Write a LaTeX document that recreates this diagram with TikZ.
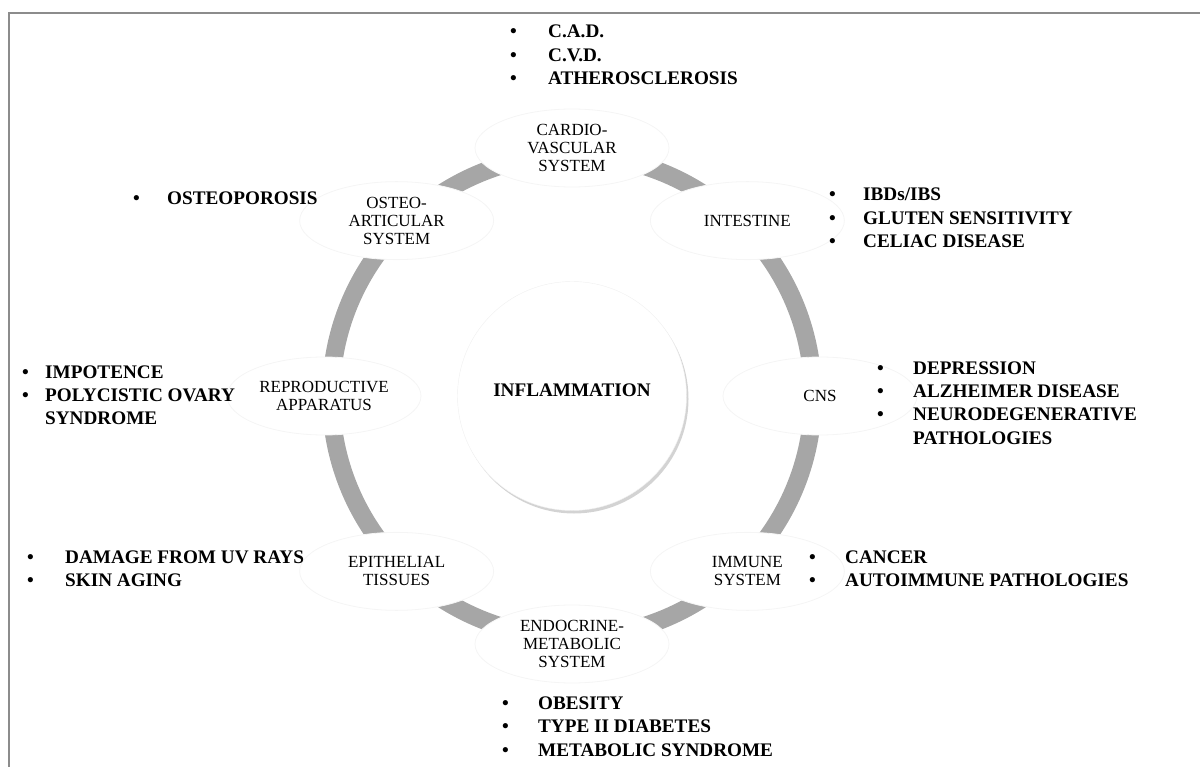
\documentclass[tikz,border=0pt]{standalone}
\usepackage{fontspec}
\setmainfont{Liberation Serif}
\usetikzlibrary{calc,shapes.geometric,shadows}

\newcommand\bulletlist[2]{%
  \begin{tabular}[t]{@{}p{#1}@{}l@{}}#2\end{tabular}}

\begin{document}
\begin{tikzpicture}[
    x=1pt, y=1pt,
    organ/.style={ellipse, fill=white, draw=black!4, line width=0.8pt,
      minimum width=194pt, minimum height=78pt, inner sep=0pt,
      align=center, font=\fontsize{17}{18}\selectfont},
    disease/.style={anchor=base west, inner sep=0pt,
      font=\fontsize{19.2}{23.5}\selectfont\bfseries},
    ring/.style={draw=black!35, line width=18pt},
    frame/.style={draw=black!45, line width=1.5pt}
  ]
  \useasboundingbox (0,0) rectangle (1200,-767);
  % frame
  \draw [frame]
    (9,-767)
    |- (1200,-13)
  ;
  % ring
  \coordinate (centre) at (572,-396);
  \draw [ring]
    (centre) circle [radius=241]
  ;
  % inflammation
  \node [circle, fill=white, draw=black!6, minimum size=229pt,
    text depth=12pt, font=\fontsize{19.2}{21}\selectfont\bfseries,
    drop shadow={shadow xshift=2pt, shadow yshift=-3pt, opacity=0.35}]
    (inflammation) at (centre) {INFLAMMATION}
  ;
  % organs
  \foreach \ang/\name/\txt in {
      90/cardio/{CARDIO-\\VASCULAR\\SYSTEM},
      45/intestine/{INTESTINE},
      0/cns/{CNS},
      -45/immune/{IMMUNE\\SYSTEM},
      -90/endocrine/{ENDOCRINE-\\METABOLIC\\SYSTEM},
      -135/epithelial/{EPITHELIAL\\TISSUES},
      180/reproductive/{REPRODUCTIVE\\APPARATUS},
      135/osteo/{OSTEO-\\ARTICULAR\\SYSTEM}}
    \node [organ] (\name) at ($(centre)+(\ang:248pt)$) {\txt};
  % diseases
  \node [disease] (cardio diseases) at (510,-38)
    {\bulletlist{38pt}{\textbullet & C.A.D.\\
      \textbullet & C.V.D.\\
      \textbullet & ATHEROSCLEROSIS}};
  \node [disease] (intestine diseases) at (829,-201)
    {\bulletlist{34pt}{\textbullet & IBDs/IBS\\
      \textbullet & GLUTEN SENSITIVITY\\
      \textbullet & CELIAC DISEASE}};
  \node [disease] (cns diseases) at (877,-374)
    {\bulletlist{36pt}{\textbullet & DEPRESSION\\
      \textbullet & ALZHEIMER DISEASE\\
      \textbullet & NEURODEGENERATIVE\\
      & PATHOLOGIES}};
  \node [disease] (immune diseases) at (809,-563)
    {\bulletlist{36pt}{\textbullet & CANCER\\
      \textbullet & AUTOIMMUNE PATHOLOGIES}};
  \node [disease] (endocrine diseases) at (502,-709)
    {\bulletlist{36pt}{\textbullet & OBESITY\\
      \textbullet & TYPE II DIABETES\\
      \textbullet & METABOLIC SYNDROME}};
  \node [disease] (epithelial diseases) at (27,-563)
    {\bulletlist{38pt}{\textbullet & DAMAGE FROM UV RAYS\\
      \textbullet & SKIN AGING}};
  \node [disease] (reproductive diseases) at (22,-378)
    {\bulletlist{23pt}{\textbullet & IMPOTENCE\\
      \textbullet & POLYCISTIC OVARY\\
      & SYNDROME}};
  \node [disease] (osteo diseases) at (133,-205)
    {\bulletlist{34pt}{\textbullet & OSTEOPOROSIS}};
\end{tikzpicture}
\end{document}
